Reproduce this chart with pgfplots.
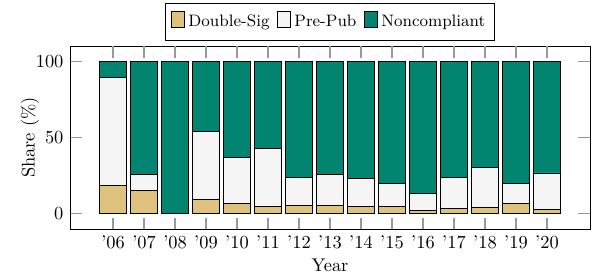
\documentclass[border=0pt]{standalone}
\usepackage{pgfplots}
\usepackage{pgfplotstable}
\pgfplotsset{compat=1.18}
\definecolor{dsig}{HTML}{DFC27D}
\definecolor{ppub}{HTML}{F5F5F5}
\definecolor{ncomp}{HTML}{018571}
\pgfplotstableread{
x ds pp nc
0 18.9 70.4 10.7
1 15.6 10.3 74.1
2 0.0 0.0 100.0
3 9.4 44.8 45.8
4 7.0 30.1 62.9
5 4.8 38.2 57.0
6 5.7 18.4 75.9
7 5.7 20.2 74.1
8 5.0 18.5 76.5
9 4.6 15.4 80.0
10 2.4 10.8 86.8
11 3.7 20.4 75.9
12 4.4 26.1 69.5
13 6.8 13.4 79.8
14 3.1 23.7 73.2
}\datatable
\begin{document}
\begin{tikzpicture}
\begin{axis}[
  name=ax,
  scale only axis,
  width=282.6pt, height=99.5pt,
  ybar stacked,
  bar width=14.2pt,
  xmin=-1.39, xmax=15.39,
  ymin=-10, ymax=110,
  xtick=data,
  xticklabels={’06,’07,’08,’09,’10,’11,’12,’13,’14,’15,’16,’17,’18,’19,’20},
  ytick={0,50,100},
  xtick pos=both, ytick pos=both,
  xtick align=inside, ytick align=inside,
  major tick length=6.3pt,
  xtick style={draw=none},
  ytick style={draw=black!40, line width=0.6pt},
  axis line style={black},
  xlabel={Year},
  ylabel={Share (\%)},
  ylabel style={at={(axis description cs:-0.0768,0.5)}, anchor=center},
  xlabel style={at={(axis description cs:0.5,-0.2)}, anchor=center},
  legend columns=-1,
  legend style={at={(0.5,1.027)}, anchor=south, draw=black,
    font=\fontsize{9}{10}\selectfont, inner ysep=4pt, inner xsep=3pt,
    /tikz/every even column/.append style={column sep=2pt}},
  legend image code/.code={\draw[#1] (0pt,-3pt) rectangle (7pt,6pt);},
  every axis plot/.append style={draw=black, line width=0.5pt},
]
\addplot[fill=dsig] table[x=x,y=ds]{\datatable};
\addplot[fill=ppub] table[x=x,y=pp]{\datatable};
\addplot[fill=ncomp] table[x=x,y=nc]{\datatable};
\legend{Double-Sig, Pre-Pub, Noncompliant}
\pgfplotsinvokeforeach{0,...,14}{
  \draw[black!40, line width=0.6pt] (axis cs:#1,-10) -- ++(0pt,6.3pt);
  \draw[black!40, line width=0.6pt] (axis cs:#1,110) -- ++(0pt,-6.3pt);
}
\end{axis}
\pgfresetboundingbox
\path ([xshift=-38pt,yshift=-25pt]ax.south west) rectangle ([xshift=1.6pt,yshift=25pt]ax.north east);
\end{tikzpicture}
\end{document}
